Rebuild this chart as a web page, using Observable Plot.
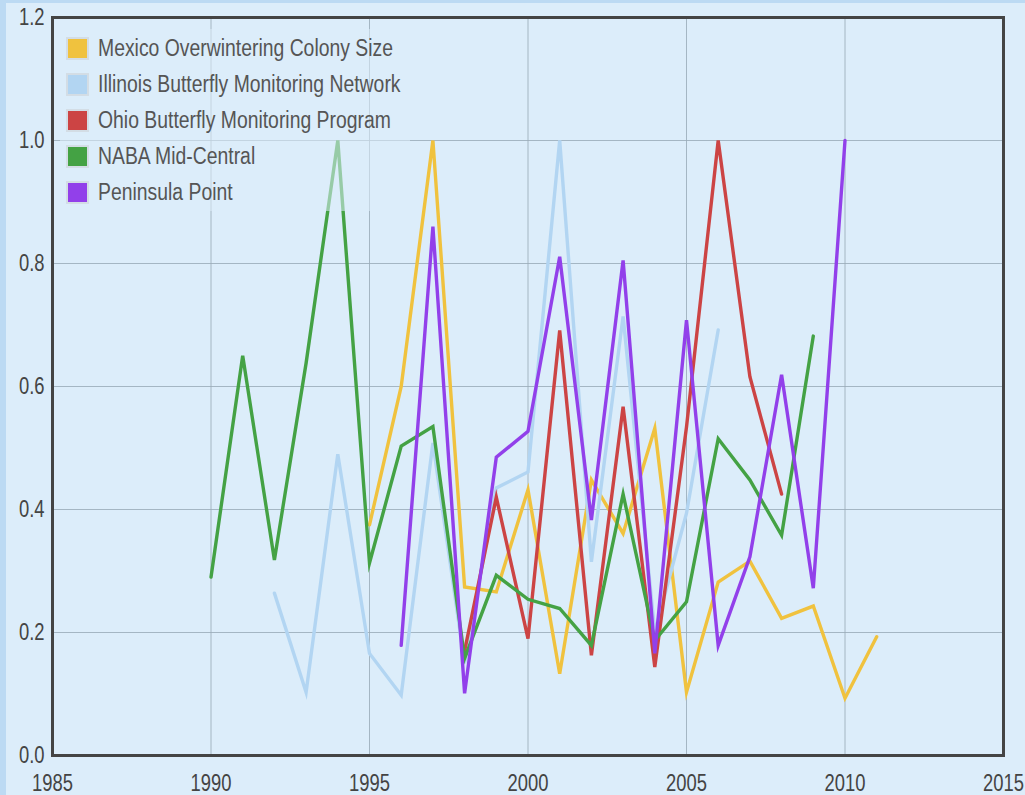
<!DOCTYPE html>
<html>
<head>
<meta charset="utf-8">
<script src="https://cdn.jsdelivr.net/npm/d3@7"></script>
<script src="https://cdn.jsdelivr.net/npm/@observablehq/plot@0.6"></script>
<style>
  html, body { margin: 0; padding: 0; background: #dcedfa; }
  #wrap { position: relative; width: 1025px; height: 795px; overflow: hidden; background: #dcedfa;
          box-shadow: inset 6px 3px 0 #bcdaf3; }
  #chart svg { position: absolute; left: 0; top: 0; }
  #legend { position: absolute; left: 60px; top: 29px; width: 350px; height: 182px;
            background: rgba(220,237,250,0.55);
            font-family: "Liberation Sans", Arial, sans-serif;
            font-size: 23px; color: #555; }
  .row { position: absolute; left: 6px; height: 24px; width: 340px; }
  .sw { position: absolute; left: 0; top: 1px; width: 23px; height: 23px; box-sizing: border-box; border: 2px solid #d3dde5; }
  .lt { position: absolute; left: 32px; top: 0; line-height: 24px; white-space: nowrap; transform-origin: 0 50%; }
</style>
</head>
<body>
<div id="wrap"><div id="chart"></div><div id="legend"></div></div>
<script>
const seriesNames = ["Mexico Overwintering Colony Size", "Illinois Butterfly Monitoring Network", "Ohio Butterfly Monitoring Program", "NABA Mid-Central", "Peninsula Point"];
const seriesColors = ["#f0c23e", "#b2d5f2", "#cc4444", "#44a244", "#9240ea"];

const mexicoYears = [1995,1996,1997,1998,1999,2000,2001,2002,2003,2004,2005,2006,2007,2008,2009,2010,2011];
const mexicoValues = [0.375,0.60,1.0,0.274,0.266,0.432,0.133,0.448,0.361,0.532,0.103,0.282,0.316,0.223,0.243,0.093,0.193];

const illinoisYears = [1992,1993,1994,1995,1996,1997,1998,1999,2000,2001,2002,2003,2004,2005,2006];
const illinoisValues = [0.264,0.103,0.49,0.166,0.098,0.508,0.15,0.435,0.461,1.0,0.315,0.714,0.20,0.394,0.692];

const ohioYears = [1998,1999,2000,2001,2002,2003,2004,2005,2006,2007,2008];
const ohioValues = [0.17,0.42,0.19,0.691,0.163,0.567,0.144,0.534,1.0,0.616,0.425];

const nabaYears = [1990,1991,1992,1993,1994,1995,1996,1997,1998,1999,2000,2001,2002,2003,2004,2005,2006,2007,2008,2009];
const nabaValues = [0.29,0.65,0.318,0.638,1.0,0.313,0.503,0.535,0.158,0.293,0.254,0.239,0.179,0.425,0.187,0.25,0.515,0.448,0.358,0.682];

const peninsulaYears = [1996,1997,1998,1999,2000,2001,2002,2003,2004,2005,2006,2007,2008,2009,2010];
const peninsulaValues = [0.179,0.86,0.101,0.485,0.527,0.811,0.383,0.805,0.166,0.708,0.179,0.323,0.619,0.272,1.0];

const xTicks = [1985,1990,1995,2000,2005,2010,2015];
const yTicks = [0,0.2,0.4,0.6,0.8,1.0,1.2];

const allYears = [mexicoYears, illinoisYears, ohioYears, nabaYears, peninsulaYears];
const allValues = [mexicoValues, illinoisValues, ohioValues, nabaValues, peninsulaValues];
const rows = [];
allYears.forEach((ys, i) => ys.forEach((yr, j) => rows.push({series: seriesNames[i], year: yr, value: allValues[i][j]})));

const font = `"Liberation Sans", Arial, sans-serif`;
const narrow = 0.8;

const plot = Plot.plot({
  width: 1025,
  height: 795,
  marginLeft: 52,
  marginRight: 22,
  marginTop: 17,
  marginBottom: 40,
  style: {background: "transparent", fontFamily: font, fontSize: "23px", color: "#444"},
  x: {domain: [1985, 2015], ticks: xTicks, tickFormat: d => String(d)},
  y: {domain: [0, 1.2], ticks: yTicks},
  color: {domain: seriesNames, range: seriesColors},
  marks: [
    Plot.gridX(xTicks.slice(1, -1), {stroke: "#9aabb8", strokeOpacity: 0.85, strokeWidth: 1}),
    Plot.gridY(yTicks.slice(1, -1), {stroke: "#9aabb8", strokeOpacity: 0.85, strokeWidth: 1}),
    Plot.axisX({ticks: xTicks, tickFormat: d => String(d), tickSize: 0, tickPadding: 19, fontSize: 23, fill: "#444", label: null}),
    Plot.axisY({ticks: yTicks, tickFormat: d => d.toFixed(1), tickSize: 0, tickPadding: 8, fontSize: 23, fill: "#444", label: null}),
    Plot.lineY(rows, {x: "year", y: "value", z: "series", stroke: "series", strokeWidth: 3.4, strokeLinejoin: "miter", strokeMiterlimit: 6}),
    Plot.frame({stroke: "#444", strokeWidth: 3})
  ]
});
document.getElementById("chart").appendChild(plot);

// condensed look for tick labels
plot.querySelectorAll('g[aria-label$="tick label"] text').forEach(t => {
  const tr = t.getAttribute("transform") || "";
  t.setAttribute("transform", tr + ` scale(${narrow},1)`);
});

const legend = document.getElementById("legend");
const texts = [];
seriesNames.forEach((name, i) => {
  const r = document.createElement("div");
  r.className = "row";
  r.style.top = (7 + i * 36) + "px";
  const sw = document.createElement("div");
  sw.className = "sw";
  sw.style.background = seriesColors[i];
  const t = document.createElement("span");
  t.className = "lt";
  t.textContent = name;
  r.appendChild(sw); r.appendChild(t);
  legend.appendChild(r);
  texts.push(t);
});
const w0 = texts[0].getBoundingClientRect().width;
const s = 295 / w0;
texts.forEach(t => t.style.transform = `scaleX(${s})`);
</script>
</body>
</html>
